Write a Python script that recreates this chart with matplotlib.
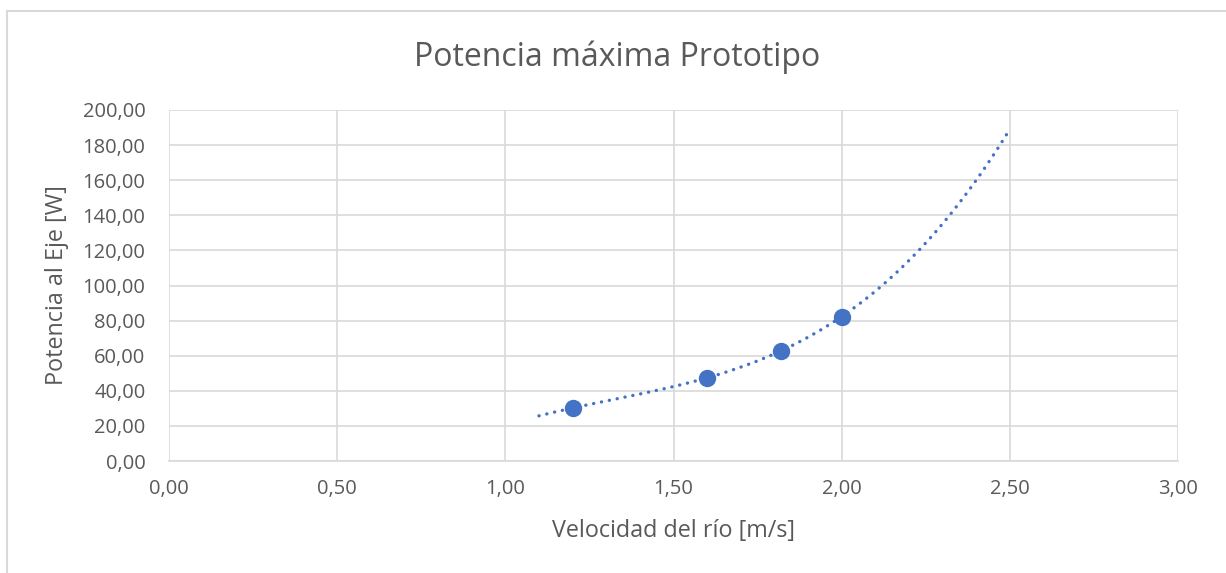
import numpy as np
import matplotlib
matplotlib.use("Agg")
import matplotlib.pyplot as plt
from matplotlib.lines import Line2D
from matplotlib.ticker import FuncFormatter

# Measured shaft power against river speed
velocidad = [1.20, 1.60, 1.82, 2.00]
potencia = [30.2, 47.4, 62.8, 82.3]
trend_range = [1.10, 2.50]
polinomio_grado = 3

xticks = [0.0, 0.5, 1.0, 1.5, 2.0, 2.5, 3.0]
yticks = [0, 20, 40, 60, 80, 100, 120, 140, 160, 180, 200]

titulo = "Potencia máxima Prototipo"
xlabel = "Velocidad del río [m/s]"
ylabel = "Potencia al Eje [W]"

azul = "#4472C4"
gris_texto = "#595959"
gris_grid = "#D9D9D9"

plt.rcParams["font.family"] = ["Open Sans", "DejaVu Sans"]

fig = plt.figure(figsize=(12.26, 5.73), dpi=100)
ax = fig.add_axes([169 / 1226, 1 - 461 / 573, (1178 - 169) / 1226, (461 - 110) / 573])

# Polynomial trendline fitted to the measurements
coef = np.polyfit(velocidad, potencia, polinomio_grado)
xt = np.linspace(trend_range[0], trend_range[1], 300)
ax.plot(xt, np.polyval(coef, xt), color=azul, lw=2.4,
        linestyle=(0, (0.05, 2.35)), dash_capstyle="round", zorder=3)

ax.plot(velocidad, potencia, "o", color=azul, ms=11.5, mec=azul, zorder=4)

ax.set_xlim(0, 3.0)
ax.set_ylim(0, 200)
ax.set_xticks(xticks)
ax.set_yticks(yticks)
fmt = FuncFormatter(lambda v, p: f"{v:.2f}".replace(".", ","))
ax.xaxis.set_major_formatter(fmt)
ax.yaxis.set_major_formatter(fmt)
ax.grid(True, color=gris_grid, lw=1.2)
ax.set_axisbelow(True)
for s in ["top", "right", "left"]:
    ax.spines[s].set_visible(False)
ax.spines["bottom"].set_color(gris_grid)
ax.spines["bottom"].set_linewidth(1.2)
ax.tick_params(length=0, labelsize=14.5, colors=gris_texto)
ax.tick_params(axis="y", pad=17)
ax.tick_params(axis="x", pad=13)

ax.set_xlabel(xlabel, fontsize=16.8, color=gris_texto, va="center")
ax.set_ylabel(ylabel, fontsize=16.8, color=gris_texto, va="center")
ax.xaxis.set_label_coords(0.5, (461 - 531) / 351)
ax.yaxis.set_label_coords((57 - 169) / 1009, 0.5)
fig.text(617 / 1226, 1 - 66 / 573, titulo, fontsize=23, color=gris_texto,
         ha="center", va="baseline")

# Chart frame edges
fig.add_artist(Line2D([7 / 1226, 1], [1 - 11 / 573] * 2, color="#D9D9D9", lw=1.5))
fig.add_artist(Line2D([7 / 1226] * 2, [0, 1 - 11 / 573], color="#D9D9D9", lw=1.5))

fig.savefig("out.png", dpi=100, facecolor="white")
